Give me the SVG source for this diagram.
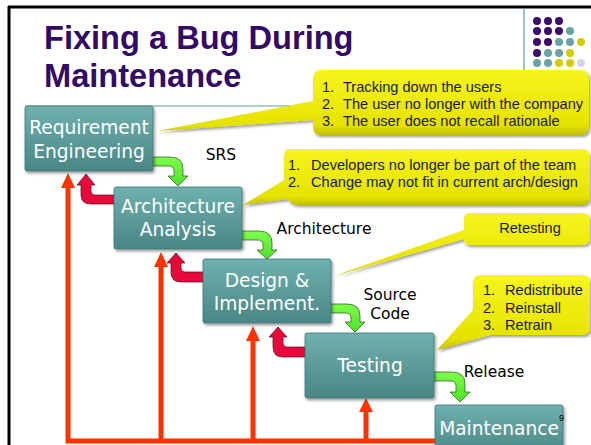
<svg xmlns="http://www.w3.org/2000/svg" width="591" height="445" viewBox="0 0 591 445">
  <defs>
    <linearGradient id="teal" x1="0" y1="0" x2="0" y2="1">
      <stop offset="0" stop-color="#6fb1ae"/>
      <stop offset="1" stop-color="#4a8684"/>
    </linearGradient>
    <linearGradient id="yellow" x1="0" y1="0" x2="0" y2="1">
      <stop offset="0" stop-color="#f6f51e"/>
      <stop offset="0.85" stop-color="#e6e200"/>
      <stop offset="1" stop-color="#c4bd00"/>
    </linearGradient>
    <linearGradient id="green" x1="0" y1="0" x2="0" y2="1">
      <stop offset="0" stop-color="#7dff4a"/>
      <stop offset="1" stop-color="#4fe02a"/>
    </linearGradient>
    <filter id="shadow" x="-10%" y="-10%" width="130%" height="140%">
      <feDropShadow dx="1.5" dy="2" stdDeviation="1.5" flood-color="#000" flood-opacity="0.4"/>
    </filter>
    <style>
      .title { font-family: "Liberation Sans", Arial, sans-serif; font-weight: bold; font-size: 32.6px; fill: #330a66; }
      .box { fill: url(#teal); stroke: #3f7675; stroke-width: 0.8; filter: url(#shadow); }
      .boxtext { font-family: "Comic Sans MS", "DejaVu Sans", sans-serif; font-size: 18.6px; fill: #ffffff; text-anchor: middle; }
      .label { font-family: "Comic Sans MS", "DejaVu Sans", sans-serif; font-size: 15.5px; fill: #000000; text-anchor: middle; }
      .callout { fill: url(#yellow); filter: url(#shadow); }
      .ctext { font-family: "Liberation Sans", Arial, sans-serif; font-size: 14.6px; fill: #1a1a1a; }
      .fwd { fill: url(#green); stroke: #2d4a20; stroke-width: 0.7; }
      .back { fill: #e8083a; stroke: #4a1020; stroke-width: 0.7; }
      .feed { stroke: #ff3300; stroke-width: 5; fill: none; }
      .feedhead { fill: #ff3300; }
      .dp { fill: #3d0a6e; }
      .dt { fill: #6aa3a3; }
      .dy { fill: #d4cc00; }
      .dl { fill: #d6d6ea; }
    </style>
  </defs>

  <rect x="0" y="0" width="591" height="445" fill="#ffffff"/>

  <!-- slide frame and theme rules -->
  <g id="frame">
    <line x1="8" y1="7" x2="591" y2="7" stroke="#000" stroke-width="3"/>
    <line x1="9" y1="6" x2="9" y2="445" stroke="#000" stroke-width="3"/>
    <line x1="524" y1="8" x2="524" y2="106" stroke="#5f9b9b" stroke-width="1.2"/>
    <line x1="25" y1="106" x2="585" y2="106" stroke="#5f9b9b" stroke-width="1.2"/>
  </g>

  <!-- decorative dot grid -->
  <g id="dots">
    <circle class="dp" cx="537" cy="21" r="4"/><circle class="dp" cx="548" cy="21" r="4"/><circle class="dp" cx="559" cy="21" r="4"/>
    <circle class="dp" cx="537" cy="31" r="4"/><circle class="dp" cx="548" cy="31" r="4"/><circle class="dp" cx="559" cy="31" r="4"/><circle class="dt" cx="570" cy="31" r="4"/>
    <circle class="dp" cx="537" cy="42" r="4"/><circle class="dp" cx="548" cy="42" r="4"/><circle class="dt" cx="559" cy="42" r="4"/><circle class="dt" cx="570" cy="42" r="4"/><circle class="dy" cx="581" cy="42" r="4"/>
    <circle class="dp" cx="537" cy="53" r="4"/><circle class="dt" cx="548" cy="53" r="4"/><circle class="dt" cx="559" cy="53" r="4"/><circle class="dy" cx="570" cy="53" r="4"/>
    <circle class="dt" cx="537" cy="63" r="4"/><circle class="dt" cx="548" cy="63" r="4"/><circle class="dy" cx="559" cy="63" r="4"/><circle class="dy" cx="570" cy="63" r="4"/><circle class="dl" cx="581" cy="63" r="4"/>
  </g>

  <g id="title">
    <text class="title" x="44" y="49">Fixing a Bug During</text>
    <text class="title" x="44" y="87">Maintenance</text>
  </g>

  <!-- connectors: forward hand-offs, back-tracking, maintenance feedback -->
  <g id="connectors">
    <path class="fwd" d="M153,157 H170 Q183,157 183,169 V176 H188 L178,186 L168,176 H174 V171 Q174,166 168,166 H153 Z"/>
    <path class="fwd" d="M242,231 H259 Q272,231 272,243 V250 H277 L267,259 L257,250 H263 V245 Q263,240 257,240 H242 Z"/>
    <path class="fwd" d="M331,304 H347 Q360,304 360,316 V322 H365 L355,332 L345,322 H351 V318 Q351,313 345,313 H331 Z"/>
    <path class="fwd" d="M434,372 H452 Q465,372 465,384 V392 H470 L460,402 L450,392 H456 V386 Q456,381 450,381 H434 Z"/>

    <path class="back" d="M114,195 H95 Q91,195 91,191 V185 H95 L86,174 L77,185 H81 V195 Q81,204 91,204 H114 Z"/>
    <path class="back" d="M203,272 H185 Q181,272 181,268 V263 H185 L176,253 L167,263 H171 V272 Q171,282 181,282 H203 Z"/>
    <path class="back" d="M305,347 H287 Q283,347 283,343 V337 H287 L278,327 L269,337 H273 V347 Q273,357 283,357 H305 Z"/>

    <polyline class="feed" points="436,441 68,441 68,186"/>
    <line class="feed" x1="161" y1="441" x2="161" y2="265"/>
    <line class="feed" x1="253" y1="441" x2="253" y2="339"/>
    <line class="feed" x1="366" y1="441" x2="366" y2="410"/>
    <polygon class="feedhead" points="61,188 68,173 75,188"/>
    <polygon class="feedhead" points="154,267 161,252 168,267"/>
    <polygon class="feedhead" points="246,341 253,326 260,341"/>
    <polygon class="feedhead" points="359,412 366,398 373,412"/>
  </g>

  <g id="req">
    <rect class="box" x="25" y="106" width="128" height="65" rx="2"/>
    <text class="boxtext" x="89" y="134">Requirement</text>
    <text class="boxtext" x="89" y="158">Engineering</text>
  </g>
  <g id="arch">
    <rect class="box" x="114" y="187" width="128" height="62" rx="2"/>
    <text class="boxtext" x="178" y="213">Architecture</text>
    <text class="boxtext" x="178" y="236">Analysis</text>
  </g>
  <g id="design">
    <rect class="box" x="203" y="259" width="128" height="64" rx="2"/>
    <text class="boxtext" x="267" y="287">Design &amp;</text>
    <text class="boxtext" x="267" y="310">Implement.</text>
  </g>
  <g id="testing">
    <rect class="box" x="305" y="333" width="129" height="65" rx="2"/>
    <text class="boxtext" x="370" y="372">Testing</text>
  </g>
  <g id="maintenance">
    <rect class="box" x="435" y="405" width="128" height="50" rx="2"/>
    <text class="boxtext" x="499" y="435">Maintenance</text>
    <text x="559" y="421" font-family="Liberation Sans, Arial, sans-serif" font-size="9" fill="#000">9</text>
  </g>

  <g id="labels">
    <text class="label" x="221" y="160">SRS</text>
    <text class="label" x="324" y="234">Architecture</text>
    <text class="label" x="390" y="300">Source</text>
    <text class="label" x="390" y="319">Code</text>
    <text class="label" x="494" y="377">Release</text>
  </g>

  <g id="note-users">
    <path class="callout" d="M321,70 H580 Q589,70 589,79 V126 Q589,135 580,135 H321 Q313,135 313,126 V120 L157,131 L313,101 V79 Q313,70 321,70 Z"/>
    <text class="ctext" x="322" y="92">1.</text><text class="ctext" x="343" y="92">Tracking down the users</text>
    <text class="ctext" x="322" y="109">2.</text><text class="ctext" x="343" y="109">The user no longer with the company</text>
    <text class="ctext" x="322" y="126">3.</text><text class="ctext" x="343" y="126">The user does not recall rationale</text>
  </g>
  <g id="note-developers">
    <path class="callout" d="M289,149 H581 Q590,149 590,158 V196 Q590,205 581,205 H300 Q290,205 288,199 L243,205 L284,180 V158 Q284,149 289,149 Z"/>
    <text class="ctext" x="288" y="170">1.</text><text class="ctext" x="311" y="170">Developers no longer be part of the team</text>
    <text class="ctext" x="288" y="187">2.</text><text class="ctext" x="311" y="187">Change may not fit in current arch/design</text>
  </g>
  <g id="note-retesting">
    <path class="callout" d="M470,213 H582 Q590,213 590,221 V237 Q590,245 582,245 H470 Q464,245 464,239 L334,276 L464,230 V219 Q464,213 470,213 Z"/>
    <text class="ctext" x="530" y="233" text-anchor="middle">Retesting</text>
  </g>
  <g id="note-release">
    <path class="callout" d="M481,275 H582 Q590,275 590,283 V327 Q590,335 582,335 H490 L437,350 L473,310 V283 Q473,275 481,275 Z"/>
    <text class="ctext" x="483" y="295">1.</text><text class="ctext" x="505" y="295">Redistribute</text>
    <text class="ctext" x="483" y="313">2.</text><text class="ctext" x="505" y="313">Reinstall</text>
    <text class="ctext" x="483" y="330">3.</text><text class="ctext" x="505" y="330">Retrain</text>
  </g>
</svg>
